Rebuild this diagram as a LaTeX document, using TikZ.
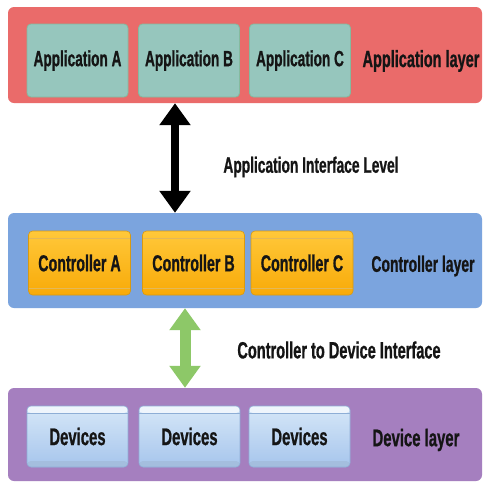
\documentclass[tikz,border=0pt]{standalone}
\usepackage{fontspec}
\setmainfont{Liberation Sans}[FakeStretch=0.62, BoldFeatures={FakeStretch=0.62, FakeBold=0.8}]
\usetikzlibrary{arrows.meta}
\definecolor{redband}{HTML}{EA6B6A}
\definecolor{blueband}{HTML}{7BA4DE}
\definecolor{purpleband}{HTML}{A57FBF}
\definecolor{appfill}{HTML}{96C6BD}
\definecolor{appline}{HTML}{84BA9F}
\definecolor{ctrltop}{HTML}{FFC83A}
\definecolor{ctrlbot}{HTML}{F8AA08}
\definecolor{ctrlline}{HTML}{D99A10}
\definecolor{devtop}{HTML}{D6E7F8}
\definecolor{devbot}{HTML}{A6C5EC}
\definecolor{devline}{HTML}{8EAED6}
\definecolor{greenarrow}{HTML}{8DC868}
\definecolor{txt}{HTML}{151515}
\newcommand{\fsz}[1]{\fontsize{#1}{#1}\selectfont\bfseries}
\tikzset{
  band/.style={rounded corners=6pt, minimum width=474pt, inner sep=0pt},
  appbox/.style={rounded corners=4pt, draw=appline, line width=0.8pt, fill=appfill,
    minimum width=101pt, minimum height=73pt, inner sep=0pt,
    font=\fsz{22}, text=txt},
  ctrlbox/.style={rounded corners=4pt, draw=ctrlline, line width=0.6pt,
    top color=ctrltop, bottom color=ctrlbot,
    minimum width=102pt, minimum height=64pt, inner sep=0pt,
    font=\fsz{23}, text=txt,
    path picture={
      \draw[ctrlline!70, line width=0.6pt] ([yshift=-7pt]path picture bounding box.north west) -- ([yshift=-7pt]path picture bounding box.north east);
      \draw[ctrlline!70, line width=0.6pt] ([yshift=7pt]path picture bounding box.south west) -- ([yshift=7pt]path picture bounding box.south east);
    }},
  devbox/.style={rounded corners=4pt, draw=devline, line width=0.6pt,
    top color=devtop, bottom color=devbot,
    minimum width=101pt, minimum height=61pt, inner sep=0pt,
    font=\fsz{24}, text=txt,
    path picture={
      \fill[white!60!devtop] (path picture bounding box.north west) rectangle ([yshift=-7pt]path picture bounding box.north east);
      \draw[devline, line width=0.6pt] ([yshift=-7pt]path picture bounding box.north west) -- ([yshift=-7pt]path picture bounding box.north east);
      \fill[devline!80] (path picture bounding box.south west) rectangle ([yshift=6pt]path picture bounding box.south east);
    }},
  layerlabel/.style={text=txt, inner sep=0pt},
  ifacelabel/.style={text=txt, inner sep=0pt},
  bigarrow/.style={line width=8pt, {Triangle[width=30pt,length=22pt]}-{Triangle[width=30pt,length=22pt]}},
}
\begin{document}
\begin{tikzpicture}[x=1pt,y=-1pt]
\useasboundingbox[fill=white] (0,0) rectangle (483,483);
% bands
\node[band, fill=redband, minimum height=96pt] (appband) at (245,55) {};
\node[band, fill=blueband, minimum height=95pt] (ctrlband) at (245,260.5) {};
\node[band, fill=purpleband, minimum height=93pt] (devband) at (245,434.5) {};
% application layer
\node[appbox] (appA) at (77.5,60.5) {Application A};
\node[appbox] (appB) at (189,60.5) {Application B};
\node[appbox] (appC) at (300,60.5) {Application C};
\node[layerlabel, font=\fsz{23.4}] (applabel) at (421,61) {Application layer};
% controller layer
\node[ctrlbox] (ctrlA) at (79.5,263) {Controller A};
\node[ctrlbox] (ctrlB) at (193.5,263) {Controller B};
\node[ctrlbox] (ctrlC) at (302,263) {Controller C};
\node[layerlabel, font=\fsz{22.5}] (ctrllabel) at (423,266) {Controller layer};
% device layer
\node[devbox] (devA) at (77.5,436.5) {Devices};
\node[devbox] (devB) at (189.5,436.5) {Devices};
\node[devbox] (devC) at (299.5,436.5) {Devices};
\node[layerlabel, font=\fsz{24}] (devlabel) at (416,440) {Device layer};
% interfaces
\coordinate (ax) at (175,0);
\coordinate (gx) at (185,0);
\draw[bigarrow, draw=black, fill=black] (appband.south -| ax) -- (ctrlband.north -| ax);
\draw[bigarrow, draw=greenarrow, fill=greenarrow, line width=11pt] (ctrlband.south -| gx) -- (devband.north -| gx);
\node[ifacelabel, font=\fsz{22.2}] (aif) at (311,167) {Application Interface Level};
\node[ifacelabel, font=\fsz{23.5}] (cdi) at (339,350) {Controller to Device Interface};
\end{tikzpicture}
\end{document}
